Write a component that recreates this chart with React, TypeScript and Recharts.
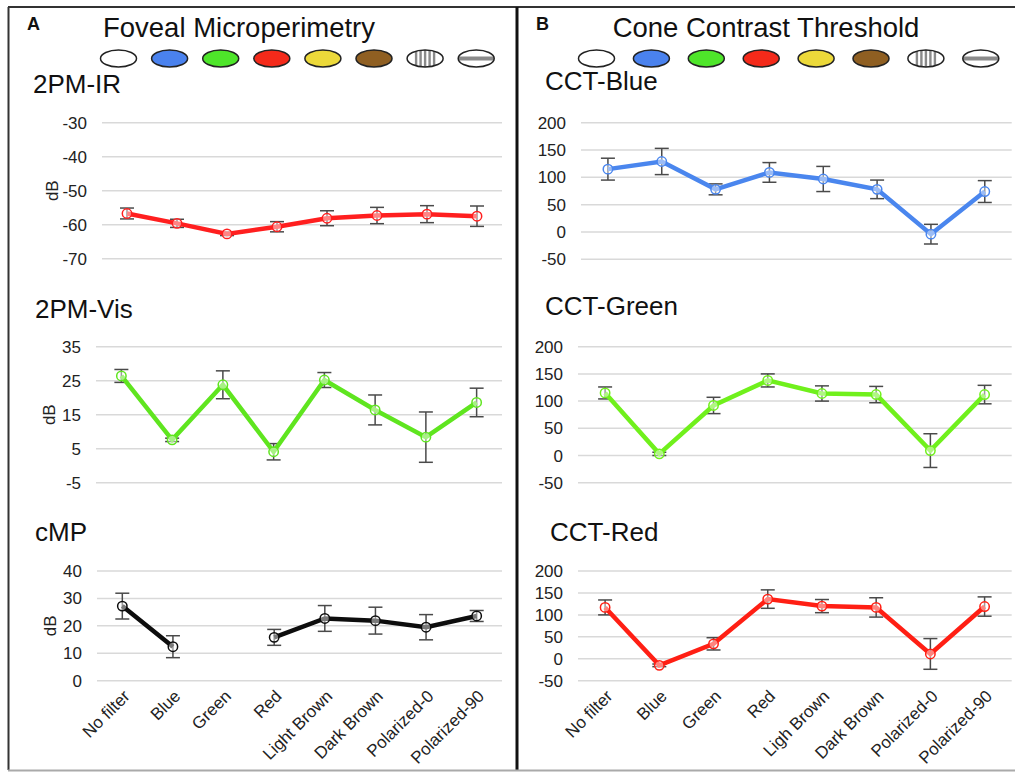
import React from "react";
import { LineChart, Line, XAxis, YAxis, CartesianGrid, ErrorBar } from "recharts";

// filter conditions (x categories)
const filtersA = ["No filter", "Blue", "Green", "Red", "Light Brown", "Dark Brown", "Polarized-0", "Polarized-90"];
const filtersB = ["No filter", "Blue", "Green", "Red", "Ligh Brown", "Dark Brown", "Polarized-0", "Polarized-90"];

// A - foveal microperimetry (dB)
const irMean = [-56.7, -59.6, -62.7, -60.6, -58.1, -57.3, -56.9, -57.5];
const irErr = [1.6, 1.2, 0.5, 1.5, 2.2, 2.4, 2.5, 3.0];
const visMean = [26.4, 7.6, 23.8, 4.1, 25.2, 16.4, 8.4, 18.6];
const visErr = [1.9, 0.5, 4.1, 2.4, 2.2, 4.4, 7.4, 4.2];
const cmpMean = [27.2, 12.4, null, 15.8, 22.7, 21.9, 19.5, 23.6];
const cmpErr = [4.7, 4.0, null, 2.9, 4.7, 4.9, 4.6, 2.0];

// B - cone contrast threshold
const cctBlueMean = [115, 129, 78, 109, 97, 78, -4, 74];
const cctBlueErr = [20, 24, 10, 18, 23, 17, 18, 20];
const cctGreenMean = [115, 3, 92, 138, 114, 112, 9, 112];
const cctGreenErr = [11, 3, 15, 12, 14, 15, 31, 17];
const cctRedMean = [117, -15, 34, 136, 120, 117, 11, 119];
const cctRedErr = [17, 3, 14, 21, 15, 22, 35, 22];

const ticksIR = [-70, -60, -50, -40, -30];
const ticksVis = [-5, 5, 15, 25, 35];
const ticksCmp = [0, 10, 20, 30, 40];
const ticksCct = [-50, 0, 50, 100, 150, 200];

// legend swatches for the filters
const swatchFills = ["#ffffff", "#4a82ee", "#4ee52a", "#f42a1a", "#ecd93a", "#8f5f22", "vstripe", "hstripe"];

const FONT = "'Liberation Sans', Arial, Helvetica, sans-serif";

type PanelProps = {
  x: number; y: number; w: number; h: number;
  plotLeft: number; plotTop: number; plotRight: number; plotBottom: number;
  cats: string[]; mean: (number | null)[]; err: (number | null)[];
  color: string; ticks: number[]; yLabel?: boolean; showX?: boolean;
};

function Panel(p: PanelProps) {
  const data = p.cats.map((c, i) => ({ cat: c, v: p.mean[i], e: p.err[i] }));
  const band = (p.plotRight - p.plotLeft) / p.cats.length;
  const xH = p.y + p.h - p.plotBottom;
  return (
    <div style={{ position: "absolute", left: p.x, top: p.y }}>
      <LineChart
        width={p.w}
        height={p.h}
        data={data}
        margin={{ top: p.plotTop - p.y, right: p.x + p.w - p.plotRight, left: 0, bottom: p.showX ? 0 : xH }}
      >
        <CartesianGrid vertical={false} stroke="#d9d9d9" strokeWidth={1.5} />
        <XAxis
          dataKey="cat"
          hide={!p.showX}
          height={p.showX ? xH : 0}
          padding={{ left: band / 2, right: band / 2 }}
          axisLine={false}
          tickLine={false}
          tickSize={0}
          tickMargin={8}
          interval={0}
          tick={{ angle: -45, textAnchor: "end", fontSize: 17, fill: "#222", fontFamily: FONT }}
        />
        <YAxis
          width={p.plotLeft - p.x}
          domain={[p.ticks[0], p.ticks[p.ticks.length - 1]]}
          ticks={p.ticks}
          interval={0}
          axisLine={false}
          tickLine={false}
          tickSize={0}
          tickMargin={15}
          tick={{ fontSize: 17, fill: "#222", fontFamily: FONT }}
          label={p.yLabel ? { value: "dB", angle: -90, position: "center", dx: -4, fontSize: 17, fill: "#222", fontFamily: FONT } : undefined}
        />
        <Line
          dataKey="v"
          stroke={p.color}
          strokeWidth={4.5}
          isAnimationActive={false}
          dot={{ r: 4.7, stroke: p.color, strokeWidth: 1.5, fill: "#fff", fillOpacity: 0.45 }}
          activeDot={false}
        >
          <ErrorBar dataKey="e" direction="y" width={7} stroke="#4a4a4a" strokeWidth={1.5} />
        </Line>
      </LineChart>
    </div>
  );
}

function Swatches({ x0, step }: { x0: number; step: number }) {
  return (
    <g>
      {swatchFills.map((f, i) => {
        const cx = x0 + i * step;
        const id = `clip-${x0}-${i}`;
        return (
          <g key={i}>
            <clipPath id={id}>
              <ellipse cx={cx} cy={58.5} rx={18} ry={8.5} />
            </clipPath>
            <ellipse cx={cx} cy={58.5} rx={18} ry={8.5} fill={f.includes("stripe") ? "#fff" : f} />
            {f === "vstripe" &&
              [-9, -4.5, 0, 4.5, 9].map((d) => (
                <rect key={d} x={cx + d - 1.2} y={48} width={2.4} height={22} fill="#8a8a8a" clipPath={`url(#${id})`} />
              ))}
            {f === "hstripe" && (
              <rect x={cx - 20} y={56.5} width={40} height={4} fill="#8a8a8a" clipPath={`url(#${id})`} />
            )}
            <ellipse cx={cx} cy={58.5} rx={18} ry={8.5} fill="none" stroke="#222" strokeWidth={1.5} />
          </g>
        );
      })}
    </g>
  );
}

export default function App() {
  const title = { fontFamily: FONT, fill: "#111" };
  return (
    <div style={{ position: "absolute", left: 0, top: 0, width: 1015, height: 774, background: "#fff" }}>
      <svg width={1015} height={774} style={{ position: "absolute", left: 0, top: 0 }}>
        <line x1={8.5} y1={7} x2={8.5} y2={770} stroke="#333" strokeWidth={2} />
        <line x1={8} y1={7} x2={1015} y2={7} stroke="#333" strokeWidth={2} />
        <line x1={517} y1={7} x2={517} y2={770} stroke="#111" strokeWidth={3} />
        <line x1={8} y1={770.5} x2={1015} y2={770.5} stroke="#aaa" strokeWidth={2} />
        <text x={27} y={30} fontSize={18} fontWeight="bold" {...title}>A</text>
        <text x={536} y={30} fontSize={18} fontWeight="bold" {...title}>B</text>
        <text x={239} y={36.5} fontSize={27.5} textAnchor="middle" {...title}>Foveal Microperimetry</text>
        <text x={766} y={36.5} fontSize={27.5} textAnchor="middle" {...title}>Cone Contrast Threshold</text>
        <Swatches x0={118.5} step={51.1} />
        <Swatches x0={596.5} step={54.9} />
        <text x={33} y={93} fontSize={26} {...title}>2PM-IR</text>
        <text x={35} y={318} fontSize={26} {...title}>2PM-Vis</text>
        <text x={35} y={541} fontSize={26} {...title}>cMP</text>
        <text x={545} y={90} fontSize={26} {...title}>CCT-Blue</text>
        <text x={545} y={315} fontSize={26} {...title}>CCT-Green</text>
        <text x={550} y={541} fontSize={26} {...title}>CCT-Red</text>
      </svg>

      <Panel x={10} y={100} w={500} h={170} plotLeft={102} plotTop={122.7} plotRight={502} plotBottom={258.7}
        cats={filtersA} mean={irMean} err={irErr} color="#ff1f1f" ticks={ticksIR} yLabel />
      <Panel x={10} y={325} w={500} h={170} plotLeft={96} plotTop={346.7} plotRight={502} plotBottom={482.7}
        cats={filtersA} mean={visMean} err={visErr} color="#5fe51f" ticks={ticksVis} yLabel />
      <Panel x={10} y={550} w={500} h={224} plotLeft={97} plotTop={571} plotRight={502} plotBottom={680.7}
        cats={filtersA} mean={cmpMean} err={cmpErr} color="#0d0d0d" ticks={ticksCmp} yLabel showX />

      <Panel x={519} y={100} w={496} h={170} plotLeft={581} plotTop={122.7} plotRight={1011.7} plotBottom={259.3}
        cats={filtersB} mean={cctBlueMean} err={cctBlueErr} color="#4a86ee" ticks={ticksCct} />
      <Panel x={519} y={325} w={496} h={170} plotLeft={578} plotTop={346.7} plotRight={1011.7} plotBottom={482.7}
        cats={filtersB} mean={cctGreenMean} err={cctGreenErr} color="#70f01c" ticks={ticksCct} />
      <Panel x={519} y={550} w={496} h={224} plotLeft={578} plotTop={571} plotRight={1011.7} plotBottom={680.7}
        cats={filtersB} mean={cctRedMean} err={cctRedErr} color="#ff1f14" ticks={ticksCct} showX />
    </div>
  );
}
